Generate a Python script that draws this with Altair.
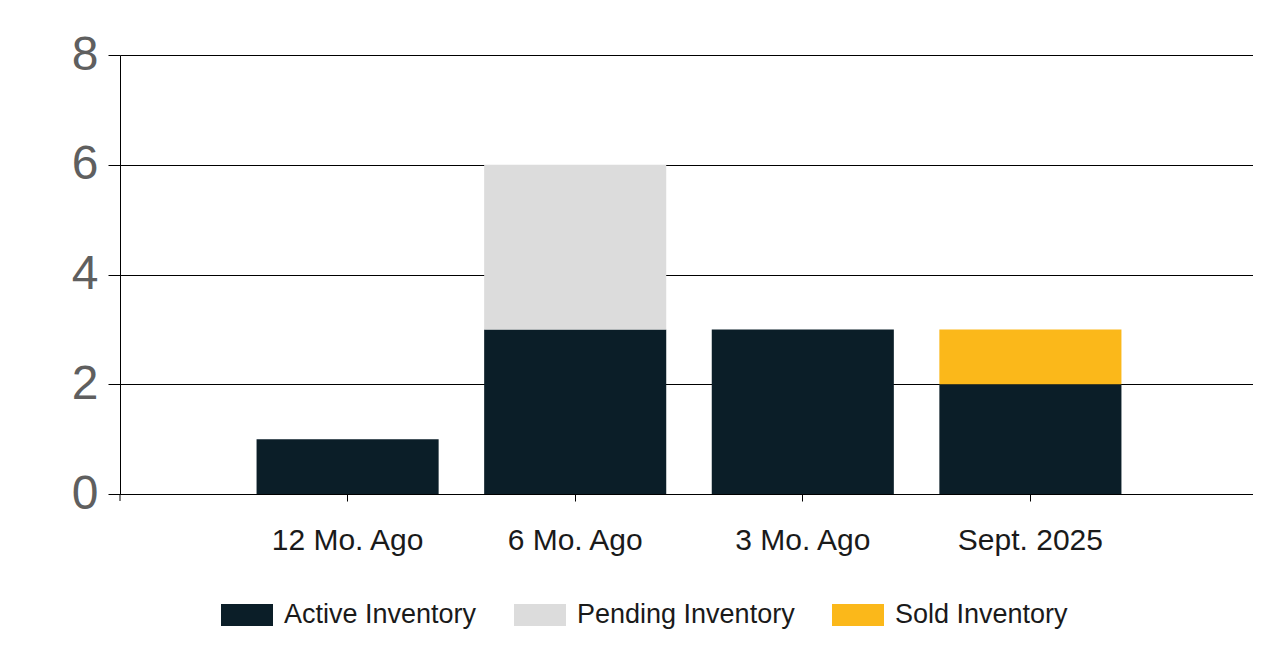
import altair as alt
import pandas as pd

categories = ["12 Mo. Ago", "6 Mo. Ago", "3 Mo. Ago", "Sept. 2025"]
series = ["Active Inventory", "Pending Inventory", "Sold Inventory"]
active = [1, 3, 3, 2]
pending = [0, 3, 0, 0]
sold = [0, 0, 0, 1]
colors = ["#0b1e28", "#dcdcdc", "#fbb81a"]
y_ticks = [0, 2, 4, 6, 8]

rows = []
for i, c in enumerate(categories):
    for k, (s, v) in enumerate(zip(series, [active[i], pending[i], sold[i]])):
        rows.append({"cat": c, "series": s, "value": v, "ord": k})
df = pd.DataFrame(rows)

W, H = 1133, 439
FULL = 1138
FONT = "Liberation Sans"

bars = alt.Chart(df).mark_bar().encode(
    x=alt.X("cat:N", sort=categories,
            scale=alt.Scale(paddingInner=0.2, paddingOuter=0.6, range=[0, FULL]),
            axis=alt.Axis(title=None, labelAngle=0, labelFontSize=30, labelFont=FONT,
                          labelColor="#1a1a1a", domainColor="#000000", domainWidth=1,
                          tickColor="#000000", tickSize=7, labelPadding=24)),
    y=alt.Y("value:Q", stack="zero",
            scale=alt.Scale(domain=[0, 8], nice=False),
            axis=alt.Axis(title=None, values=y_ticks, labelFontSize=48, labelFont=FONT,
                          labelColor="#5f5f5f", domainColor="#000000", tickColor="#000000",
                          tickSize=12, labelPadding=10, gridColor="#000000", gridWidth=1,
                          grid=True)),
    color=alt.Color("series:N", sort=series,
                    scale=alt.Scale(domain=series, range=colors),
                    legend=alt.Legend(title=None, orient="none", direction="horizontal",
                                      legendX=101, legendY=534,
                                      symbolType="M-1,-0.423H1V0.423H-1Z", symbolSize=2704,
                                      symbolStrokeWidth=0, labelFontSize=27, labelFont=FONT,
                                      labelColor="#1a1a1a", labelOffset=11, columnPadding=37,
                                      labelLimit=0, padding=0, symbolOpacity=1)),
    order=alt.Order("ord:Q"),
)

end_ticks = alt.Chart(pd.DataFrame({"x": [0, FULL]})).mark_rule(color="#000000", strokeWidth=1).encode(
    x=alt.X("x:Q", scale=alt.Scale(domain=[0, FULL], range=[0, FULL]), axis=None),
    y=alt.value(H),
    y2=alt.value(H + 7),
)

chart = alt.layer(bars, end_ticks).resolve_scale(x="independent").properties(
    width=W, height=H,
    autosize=alt.AutoSizeParams(type="none"),
    padding={"left": 112, "top": 47, "right": 0, "bottom": 160},
).configure(background="#ffffff").configure_view(stroke=None)

chart.save("out.html", embed_options={"renderer": "svg", "actions": False})
